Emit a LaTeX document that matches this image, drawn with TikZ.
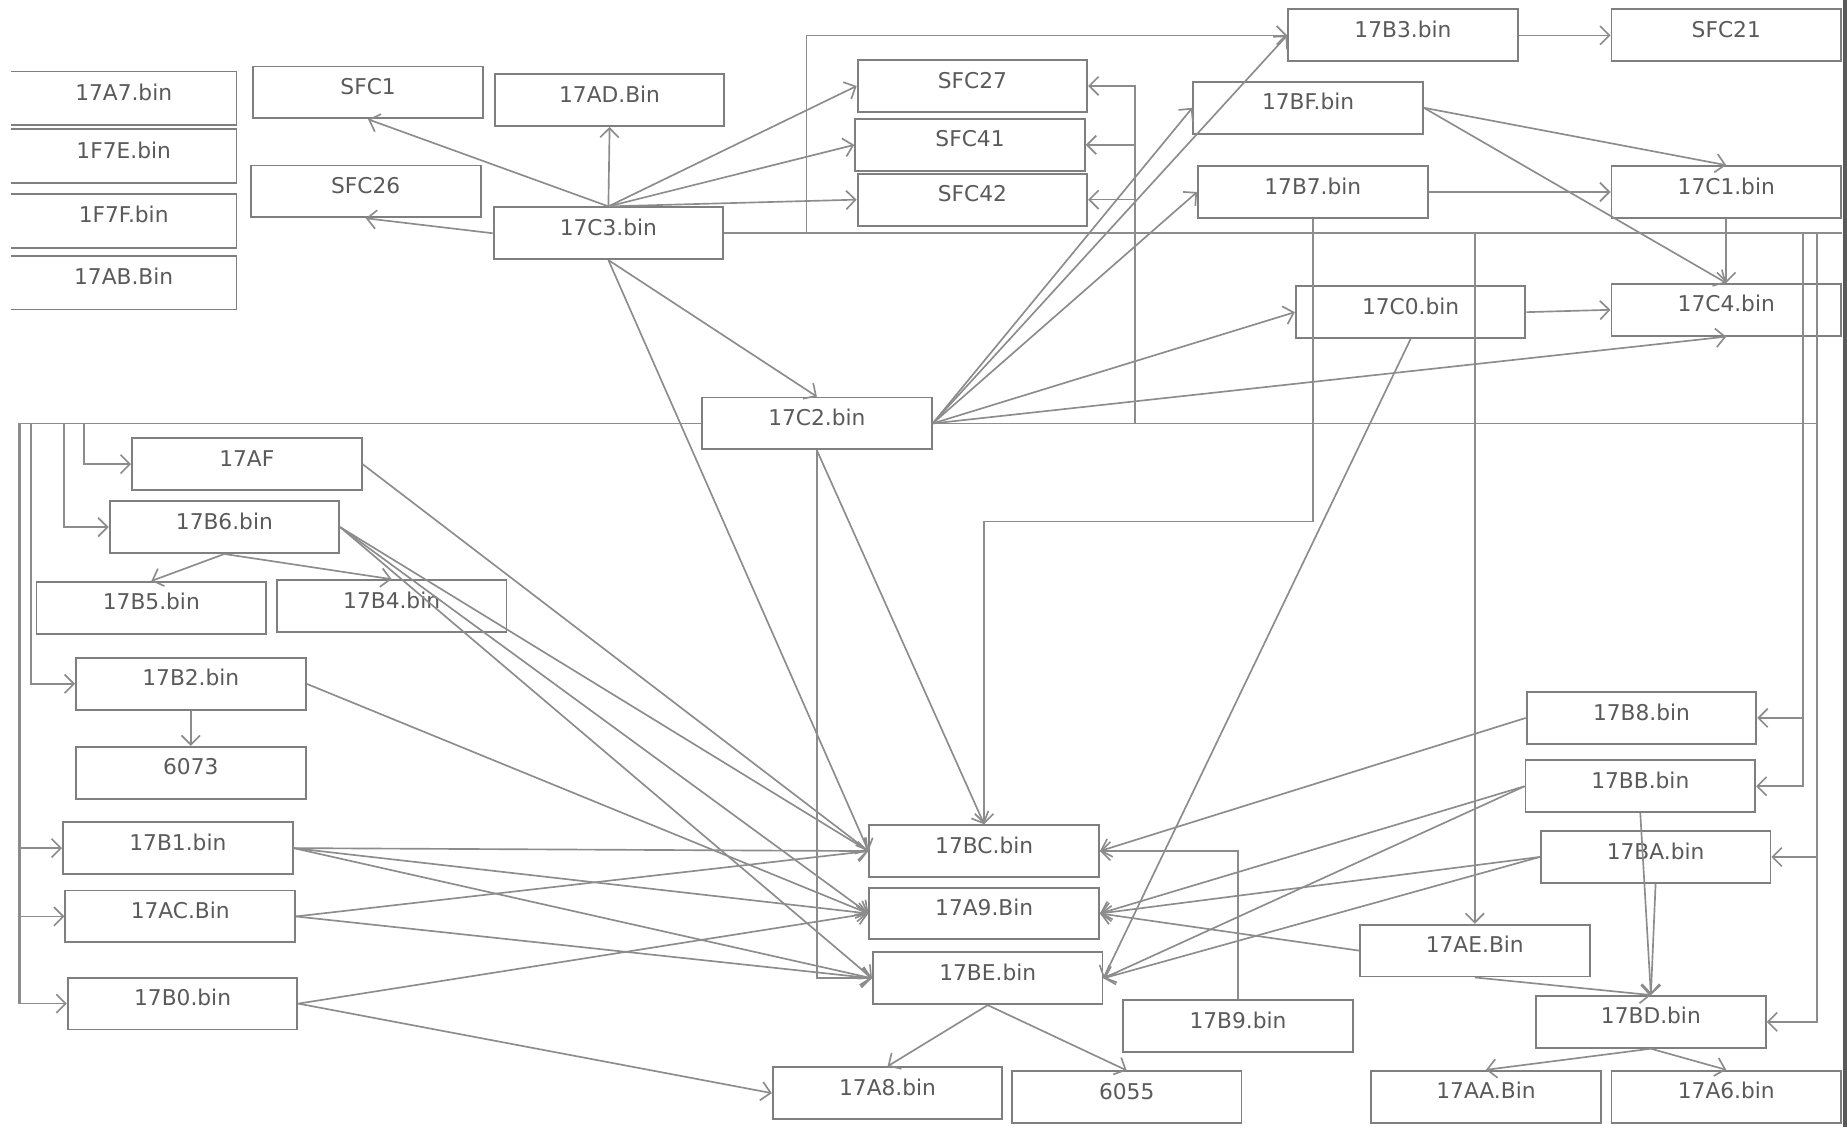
\documentclass[tikz,border=0pt]{standalone}
\usepackage{fontspec}
\setmainfont{DejaVu Sans}
\usepackage{tikz}
\usetikzlibrary{arrows.meta,positioning}

\definecolor{linegray}{HTML}{8C8C8C}
\definecolor{boxgray}{HTML}{7F7F7F}
\definecolor{textgray}{HTML}{5A5A5A}

\begin{document}
\begin{tikzpicture}[x=0.02cm,y=-0.02cm,on grid,
    >={Straight Barb[length=4.5pt,width=9pt]}]
  \tikzstyle{box}=[draw=boxgray,line width=0.9pt,fill=white,minimum width=3.9cm,
    minimum height=0.88cm,inner sep=0pt,text=textgray,
    font=\fontsize{10.5}{12}\selectfont,text height=8pt,text depth=6pt]
  \tikzstyle{cutbox}=[box,draw=none,minimum width=3.8cm]
  \tikzstyle{wire}=[color=linegray,line width=0.8pt]

  \useasboundingbox (0,0) rectangle (1568,957);
  \fill[white] (0,0) rectangle (1568,957);

  % top part
  \node[box] (f_SFC1)  at (312.5,78.5)  {SFC1};
  \node[box] (f_17AD)  at (517.5,85)    {17AD.Bin};
  \node[box] (f_SFC26) at (310.5,162.5) {SFC26};
  \node[box] (f_17C3)  at (516.5,198)   {17C3.bin};
  \node[box] (f_SFC27) at (825.5,73)    {SFC27};
  \node[box] (f_SFC41) at (823.5,123)   {SFC41};
  \node[box] (f_SFC42) at (825.5,169.5) {SFC42};
  \node[box] (f_17B3)  at (1191,30)     {17B3.bin};
  \node[box] (f_SFC21) at (1465.5,30)   {SFC21};
  \node[box] (f_17BF)  at (1110.5,91.5) {17BF.bin};
  \node[box] (f_17B7)  at (1114.5,163)  {17B7.bin};
  \node[box] (f_17C1)  at (1465.5,163)  {17C1.bin};
  \node[box] (f_17C0)  at (1197.5,265)  {17C0.bin};
  \node[box] (f_17C4)  at (1465.5,263)  {17C4.bin};
  \node[box] (f_17C2)  at (693.5,359.5) {17C2.bin};

  \foreach \n/\y/\lbl in {17A7/83.5/17A7.bin,1F7E/132.5/1F7E.bin,1F7F/187.5/1F7F.bin,17AB/240/17AB.Bin}{
    \node[cutbox] (f_\n) at (105,\y) {\lbl};
    \draw[draw=boxgray,line width=0.9pt] (f_\n.north west) -- (f_\n.north east)
      -- (f_\n.south east) -- (f_\n.south west);
  }

  % left part
  \node[box] (f_17AF) at (209.5,394)   {17AF};
  \node[box] (f_17B6) at (190.5,447.5) {17B6.bin};
  \node[box] (f_17B5) at (128.5,516)   {17B5.bin};
  \node[box] (f_17B4) at (332.5,514.5) {17B4.bin};
  \node[box] (f_17B2) at (162,580.5)   {17B2.bin};
  \node[box] (f_6073) [below=1.51cm of f_17B2] {6073};
  \node[box] (f_17B1) at (151,720)     {17B1.bin};
  \node[box] (f_17AC) at (153,778)     {17AC.Bin};
  \node[box] (f_17B0) at (155,852)     {17B0.bin};

  % middle
  \node[box] (f_17BC) at (835.5,722.5) {17BC.bin};
  \node[box] (f_17A9) [below=1.06cm of f_17BC] {17A9.Bin};
  \node[box] (f_17BE) at (838.5,830.5) {17BE.bin};
  \node[box] (f_17A8) at (753.5,928)   {17A8.bin};
  \node[box] (f_6055) at (956.5,931.5) {6055};
  \node[box] (f_17B9) at (1051,871)    {17B9.bin};

  % right part
  \node[box] (f_17B8) at (1393.5,609.5) {17B8.bin};
  \node[box] (f_17BB) at (1392.5,667.5) {17BB.bin};
  \node[box] (f_17BA) at (1405.5,727.5) {17BA.bin};
  \node[box] (f_17AE) at (1252,807)     {17AE.Bin};
  \node[box] (f_17BD) at (1401.5,867.5) {17BD.bin};
  \node[box] (f_17AA) at (1261.5,931)   {17AA.Bin};
  \node[box] (f_17A6) at (1465.5,931)   {17A6.bin};

  \draw[boxgray!70!black,line width=2pt] (1566,0) -- (1566,957);

  \path[wire,->]
  (f_17C3.north) edge (f_SFC1.south)
                 edge (f_17AD.south)
                 edge (f_SFC27.west)
                 edge (f_SFC41.west)
                 edge (f_SFC42.west)
  (f_17C3.west)  edge (f_SFC26.south)
  (f_17C3.south) edge (f_17C2.north)
                 edge (f_17BC.west)
  (f_17C2.east)  edge (f_17B3.west)
                 edge (f_17BF.west)
                 edge (f_17B7.west)
                 edge (f_17C0.west)
                 edge (f_17C4.south)
  (f_17C2.south) edge (f_17BC.north)
  (f_17BF.east)  edge (f_17C1.north)
                 edge (f_17C4.north)
  (f_17B7.east)  edge (f_17C1.west)
  (f_17B3.east)  edge (f_SFC21.west)
  (f_17C0.east)  edge (f_17C4.west)
  (f_17C0.south) edge (f_17BE.east)
  (f_17C1.south) edge (f_17C4.north)
  (f_17AF.east)  edge (f_17BC.west)
  (f_17B6.east)  edge (f_17BC.west)
                 edge (f_17A9.west)
                 edge (f_17BE.west)
  (f_17B6.south) edge (f_17B5.north)
                 edge (f_17B4.north)
  (f_17B2.east)  edge (f_17A9.west)
  (f_17B2.south) edge (f_6073.north)
  (f_17B1.east)  edge (f_17BC.west)
                 edge (f_17A9.west)
                 edge (f_17BE.west)
  (f_17AC.east)  edge (f_17BC.west)
                 edge (f_17BE.west)
  (f_17B0.east)  edge (f_17A9.west)
                 edge (f_17A8.west)
  (f_17BE.south) edge (f_17A8.north)
                 edge (f_6055.north)
  (f_17B8.west)  edge (f_17BC.east)
  (f_17BB.west)  edge (f_17A9.east)
                 edge (f_17BE.east)
  (f_17BA.west)  edge (f_17A9.east)
                 edge (f_17BE.east)
  (f_17AE.west)  edge (f_17A9.east)
  (f_17AE.south) edge (f_17BD.north)
  (f_17BB.south) edge (f_17BD.north)
  (f_17BA.south) edge (f_17BD.north)
  (f_17BD.south) edge (f_17AA.north)
                 edge (f_17A6.north);

  % routed lines
  \draw[wire,->] (f_17C3.east) -- ++(70,0) |- (f_17B3.west);
  \draw[wire] (f_17C3.east) -- (f_17C3.east -| f_SFC21.east);
  \draw[wire,->] (f_17C3.east -| f_17AE.north) -- (f_17AE.north);
  \draw[wire,line width=1.1pt] (f_17C3.east) ++(916,0) -- ++(0,469);
  \draw[wire,line width=1.1pt] (f_17C3.east) ++(928,0) -- ++(0,668);
  \draw[wire,->] (f_17C3.east) ++(916,0) |- (f_17B8.east);
  \draw[wire,->] (f_17C3.east) ++(916,0) |- (f_17BB.east);
  \draw[wire,->] (f_17C3.east) ++(928,0) |- (f_17BA.east);
  \draw[wire,->] (f_17C3.east) ++(928,0) |- (f_17BD.east);

  \draw[wire,->] (f_17C2.east) -- ++(172,0) |- (f_SFC27.east);
  \draw[wire,->] (f_17C2.east) -- ++(172,0) |- (f_SFC41.east);
  \draw[wire,->] (f_17C2.east) -- ++(172,0) |- (f_SFC42.east);
  \draw[wire] (f_17C2.east) -- ++(752,0);
  \draw[wire,->] (f_17C2.west) -- ++(-524,0) |- (f_17AF.west);
  \draw[wire,->] (f_17C2.west) -- ++(-541,0) |- (f_17B6.west);
  \draw[wire,->] (f_17C2.west) -- ++(-569,0) |- (f_17B2.west);
  \draw[wire,line width=1.5pt] (f_17C2.west) ++(-579,0) -- ++(0,493);
  \draw[wire,->] (f_17C2.west) -- ++(-579,0) |- (f_17B1.west);
  \draw[wire,->] (f_17C2.west) -- ++(-579,0) |- (f_17AC.west);
  \draw[wire,->] (f_17C2.west) -- ++(-579,0) |- (f_17B0.west);
  \draw[wire,->] (f_17C2.south) |- (f_17BE.west);

  \draw[wire,->] (f_17B7.south) -- ++(0,257) -| (f_17BC.north);
  \draw[wire,->] (f_17B9.north) |- (f_17BC.east);
\end{tikzpicture}
\end{document}
